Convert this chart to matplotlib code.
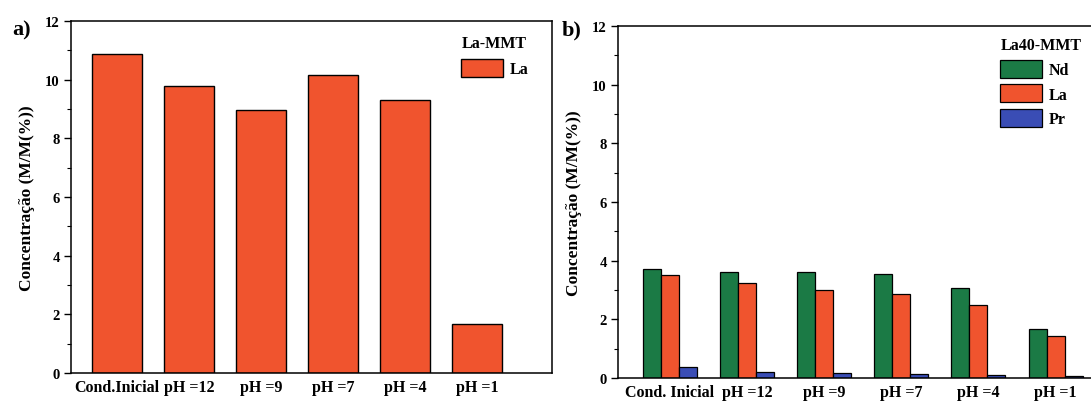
import numpy as np
import matplotlib.pyplot as plt
from matplotlib.ticker import MultipleLocator

## Data
categories = ['Cond.Inicial', 'pH =12', 'pH =9', 'pH =7', 'pH =4', 'pH =1']
la_mmt = [10.87, 9.77, 8.98, 10.15, 9.32, 1.67]

nd_la40 = [3.72, 3.63, 3.60, 3.55, 3.06, 1.67]
la_la40 = [3.52, 3.23, 3.00, 2.88, 2.48, 1.43]
pr_la40 = [0.36, 0.21, 0.17, 0.15, 0.09, 0.06]

red = '#F0542E'
green = '#1B7A45'
blue = '#3A4DB5'

plt.rcParams['font.family'] = ['Liberation Serif', 'DejaVu Serif']
plt.rcParams['font.weight'] = 'bold'

W, H = 1091, 402
fig = plt.figure(figsize=(W / 100, H / 100), dpi=100)

def px_axes(x0, x1, ytop, ybot):
    return fig.add_axes([x0 / W, 1 - ybot / H, (x1 - x0) / W, (ybot - ytop) / H])

def style(ax):
    ax.set_ylim(0, 12)
    ax.yaxis.set_major_locator(MultipleLocator(2))
    ax.yaxis.set_minor_locator(MultipleLocator(1))
    ax.tick_params(axis='y', which='major', direction='out', length=5, width=1,
                   labelsize=10.5, pad=3)
    ax.tick_params(axis='y', which='minor', direction='out', length=3, width=0.8)
    ax.tick_params(axis='x', length=0, labelsize=11.5, pad=4)
    for lab in ax.get_yticklabels() + ax.get_xticklabels():
        lab.set_fontweight('bold')
    for s in ax.spines.values():
        s.set_linewidth(1.1)
    ax.set_ylabel('Concentração (M/M(%))', fontsize=12.5, fontweight='bold', labelpad=7)

x = np.arange(len(categories))

## -------- Panel a
ax1 = px_axes(71, 552, 22, 374)
ax1.bar(x, la_mmt, width=0.69, color=red, edgecolor='black', linewidth=1, label='La')
ax1.set_xlim(-0.64, 6.04)
ax1.set_xticks(x)
ax1.set_xticklabels(categories)
style(ax1)
leg1 = ax1.legend(title='La-MMT', loc='upper left', bbox_to_anchor=(455 / W, 1 - 30 / H),
                  bbox_transform=fig.transFigure, frameon=False, fontsize=11.5,
                  title_fontproperties={'weight': 'bold', 'size': 11.5},
                  handlelength=2.6, handleheight=1.3, handletextpad=0.4,
                  borderaxespad=0, alignment='left')
for t in leg1.get_texts():
    t.set_fontweight('bold')
fig.text(12 / W, 1 - 30 / H, 'a)', fontsize=16, fontweight='bold', va='center')

## -------- Panel b
ax2 = px_axes(618, 1105, 27, 379)
bw = 0.233
ax2.bar(x - bw, nd_la40, width=bw, color=green, edgecolor='black', linewidth=0.9, label='Nd')
ax2.bar(x, la_la40, width=bw, color=red, edgecolor='black', linewidth=0.9, label='La')
ax2.bar(x + bw, pr_la40, width=bw, color=blue, edgecolor='black', linewidth=0.9, label='Pr')
ax2.set_xlim(-0.67, 5.64)
ax2.set_xticks(x)
ax2.set_xticklabels(['Cond. Inicial', 'pH =12', 'pH =9', 'pH =7', 'pH =4', 'pH =1'])
style(ax2)
leg2 = ax2.legend(title='La40-MMT', loc='upper left', bbox_to_anchor=(994 / W, 1 - 32 / H),
                  bbox_transform=fig.transFigure, frameon=False, fontsize=11.5,
                  title_fontproperties={'weight': 'bold', 'size': 11.5},
                  handlelength=2.6, handleheight=1.35, handletextpad=0.4,
                  labelspacing=0.4, borderaxespad=0, alignment='left')
for t in leg2.get_texts():
    t.set_fontweight('bold')
fig.text(562 / W, 1 - 30 / H, 'b)', fontsize=16, fontweight='bold', va='center')

fig.savefig('out.png', dpi=100)
